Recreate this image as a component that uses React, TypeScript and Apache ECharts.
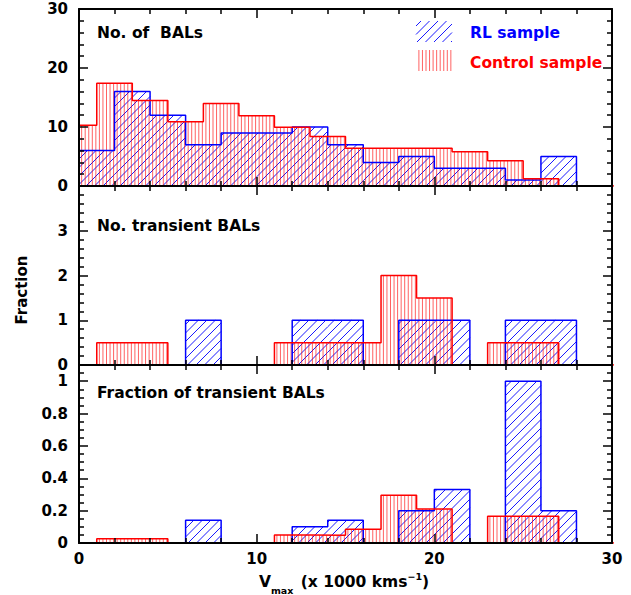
import React, { useEffect, useRef } from 'react';
import * as echarts from 'echarts';

// ---------- data ----------
const BIN_WIDTH = 2;
const rlBinStarts = [0, 2, 4, 6, 8, 10, 12, 14, 16, 18, 20, 22, 24, 26, 28];
const controlBinStarts = [-1, 1, 3, 5, 7, 9, 11, 13, 15, 17, 19, 21, 23, 25, 27, 29];

const rlCounts = [6, 16, 12, 7, 9, 9, 10, 7, 4, 5, 3, 3, 1, 5, 0];
const controlCounts = [10.3, 17.4, 14.5, 10.9, 14.0, 11.9, 9.95, 8.4, 6.4, 6.4, 6.4, 5.8, 4.3, 1.25, 0, 0];

const rlTransient = [0, 0, 0, 1, 0, 0, 1, 1, 0, 1, 1, 0, 1, 1, 0];
const controlTransient = [0, 0.5, 0.5, 0, 0, 0, 0.5, 0.5, 0.5, 2, 1.5, 0, 0.5, 0.5, 0, 0];

const rlFraction = [0, 0, 0, 0.14, 0, 0, 0.1, 0.14, 0, 0.2, 0.33, 0, 1, 0.2, 0];
const controlFraction = [0, 0.027, 0.027, 0, 0, 0, 0.05, 0.048, 0.085, 0.295, 0.21, 0, 0.165, 0.165, 0, 0];

const panelTitles = ['No. of  BALs', 'No. transient BALs', 'Fraction of transient BALs'];
const legendLabels = ['RL sample', 'Control sample'];
const yAxisTitle = 'Fraction';

const X_MIN = 0;
const X_MAX = 30;
const X_INTERVAL = 10;
const yRanges = [
  { min: 0, max: 30, interval: 10, minor: 5 },
  { min: 0, max: 4, interval: 1, minor: 5 },
  { min: 0, max: 1.1, interval: 0.2, minor: 4 },
];

// ---------- style ----------
const FONT = '"DejaVu Sans", Verdana, sans-serif';
const BLUE = '#0000ff';
const RED = '#ff0000';
const DIAG_SPACING = 8.5;
const VERT_SPACING = 3.55;
const BLUE_HATCH = { stroke: 'rgba(0,0,255,0.9)', lineWidth: 1 };
const RED_HATCH = { stroke: 'rgba(255,0,0,0.62)', lineWidth: 1 };

type Seg = { x1: number; y1: number; x2: number; y2: number };

function hatch(x0: number, y0: number, x1: number, y1: number, kind: 'diag' | 'vert'): Seg[] {
  const segs: Seg[] = [];
  if (kind === 'vert') {
    const d = VERT_SPACING;
    for (let x = Math.ceil(x0 / d) * d; x <= x1; x += d) {
      segs.push({ x1: x, y1: y0, x2: x, y2: y1 });
    }
  } else {
    const d = DIAG_SPACING;
    for (let c = Math.ceil((x0 + y0) / d) * d; c <= x1 + y1; c += d) {
      const xs = Math.max(x0, c - y1);
      const xe = Math.min(x1, c - y0);
      if (xe > xs) segs.push({ x1: xs, y1: c - xs, x2: xe, y2: c - xe });
    }
  }
  return segs;
}

function hatchGroup(x0: number, y0: number, x1: number, y1: number, kind: 'diag' | 'vert', z = 0): any {
  const style = kind === 'diag' ? BLUE_HATCH : RED_HATCH;
  return {
    type: 'group',
    silent: true,
    children: hatch(x0, y0, x1, y1, kind).map((s) => ({
      type: 'line',
      silent: true,
      z,
      shape: s,
      style: { ...style },
    })),
  };
}

function binData(starts: number[], values: number[]) {
  return starts.map((s, i) => [s, s + BIN_WIDTH, values[i]]);
}

function outline(starts: number[], values: number[]) {
  const pts: number[][] = [[starts[0], 0]];
  starts.forEach((s, i) => {
    pts.push([s, values[i]]);
    pts.push([s + BIN_WIDTH, values[i]]);
  });
  pts.push([starts[starts.length - 1] + BIN_WIDTH, 0]);
  return pts;
}

export default function App() {
  const ref = useRef<HTMLDivElement>(null);

  useEffect(() => {
    if (!ref.current) return;
    const chart = echarts.init(ref.current, null, { renderer: 'svg' });

    const grids = [
      { left: 79, right: 19, top: 9, height: 177 },
      { left: 79, right: 19, top: 186, height: 179 },
      { left: 79, right: 19, top: 365, height: 178 },
    ];

    const lineCommon = { lineStyle: { color: '#000', width: 2 }, onZero: false };
    const tickCommon = { show: true, inside: true, length: 9, lineStyle: { color: '#000', width: 1.5 } };
    const labelFont = { fontFamily: FONT, fontWeight: 'bold', fontSize: 15, color: '#000' };

    const xAxes: any[] = [];
    const yAxes: any[] = [];
    grids.forEach((_, gi) => {
      ['bottom', 'top'].forEach((pos) => {
        xAxes.push({
          type: 'value',
          gridIndex: gi,
          position: pos,
          min: X_MIN,
          max: X_MAX,
          interval: X_INTERVAL,
          axisLine: { show: true, ...lineCommon },
          axisTick: tickCommon,
          minorTick: { show: true, splitNumber: 5, length: 5, lineStyle: { color: '#000', width: 1.5 } },
          splitLine: { show: false },
          minorSplitLine: { show: false },
          axisLabel: { show: gi === 2 && pos === 'bottom', margin: 8, ...labelFont },
          z: 10,
        });
      });
      const r = yRanges[gi];
      ['left', 'right'].forEach((pos) => {
        yAxes.push({
          type: 'value',
          gridIndex: gi,
          position: pos,
          min: r.min,
          max: r.max,
          interval: r.interval,
          axisLine: { show: true, ...lineCommon },
          axisTick: tickCommon,
          minorTick: { show: true, splitNumber: r.minor, length: 5, lineStyle: { color: '#000', width: 1.5 } },
          splitLine: { show: false },
          minorSplitLine: { show: false },
          axisLabel: {
            show: pos === 'left',
            margin: 11,
            showMaxLabel: gi === 0,
            ...labelFont,
          },
          z: 10,
        });
      });
    });

    const panels = [
      { rl: rlCounts, ctrl: controlCounts },
      { rl: rlTransient, ctrl: controlTransient },
      { rl: rlFraction, ctrl: controlFraction },
    ];

    const makeRender = (kind: 'diag' | 'vert') => (params: any, api: any) => {
      const a = Math.max(api.value(0), X_MIN);
      const b = Math.min(api.value(1), X_MAX);
      const v = api.value(2);
      if (!(v > 0) || b <= a) return null;
      const p0 = api.coord([a, 0]);
      const p1 = api.coord([b, v]);
      return hatchGroup(p0[0], p1[1], p1[0], p0[1], kind);
    };

    const series: any[] = [];
    panels.forEach((p, gi) => {
      const xi = gi * 2;
      const yi = gi * 2;
      series.push({
        type: 'custom',
        xAxisIndex: xi,
        yAxisIndex: yi,
        data: binData(rlBinStarts, p.rl),
        encode: { x: [0, 1], y: 2 },
        renderItem: makeRender('diag'),
        z: 1,
        silent: true,
      });
      series.push({
        type: 'custom',
        xAxisIndex: xi,
        yAxisIndex: yi,
        data: binData(controlBinStarts, p.ctrl),
        encode: { x: [0, 1], y: 2 },
        renderItem: makeRender('vert'),
        z: 2,
        silent: true,
      });
      series.push({
        type: 'line',
        xAxisIndex: xi,
        yAxisIndex: yi,
        data: outline(rlBinStarts, p.rl),
        symbol: 'none',
        lineStyle: { color: BLUE, width: 1.5 },
        clip: true,
        z: 3,
        silent: true,
      });
      series.push({
        type: 'line',
        xAxisIndex: xi,
        yAxisIndex: yi,
        data: outline(controlBinStarts, p.ctrl),
        symbol: 'none',
        lineStyle: { color: RED, width: 1.5 },
        clip: true,
        z: 4,
        silent: true,
      });
    });

    const txt = (text: string, x: number, y: number, fill = '#000', extra: any = {}) => ({
      type: 'text',
      x,
      y,
      z: 100,
      silent: true,
      style: {
        text,
        fill,
        fontFamily: FONT,
        fontWeight: 'bold',
        fontSize: 15.5,
        align: 'left',
        textAlign: 'left',
        verticalAlign: 'middle',
        textVerticalAlign: 'middle',
        ...extra,
      },
    });

    const graphic: any[] = [
      txt(panelTitles[0], 97, 33),
      txt(panelTitles[1], 97, 226),
      txt(panelTitles[2], 97, 393),
      { ...hatchGroup(416, 21, 452, 42, 'diag'), z: 100 },
      { ...hatchGroup(416, 50, 451, 71, 'vert'), z: 100 },
      txt(legendLabels[0], 470, 33, BLUE),
      txt(legendLabels[1], 470, 63, RED),
      {
        type: 'text',
        x: 22,
        y: 290,
        rotation: Math.PI / 2,
        z: 100,
        silent: true,
        style: {
          text: yAxisTitle,
          fill: '#000',
          fontFamily: FONT,
          fontWeight: 'bold',
          fontSize: 15,
          align: 'center',
          textAlign: 'center',
          verticalAlign: 'middle',
          textVerticalAlign: 'middle',
        },
      },
      {
        type: 'text',
        x: 344,
        y: 582,
        z: 100,
        silent: true,
        style: {
          text: '{b|V}{s|max}{b| (x 1000 kms}{p|−1}{b|)}',
          fill: '#000',
          align: 'center',
          textAlign: 'center',
          verticalAlign: 'middle',
          textVerticalAlign: 'middle',
          rich: {
            b: { fontFamily: FONT, fontWeight: 'bold', fontSize: 15.5, lineHeight: 26, verticalAlign: 'middle' },
            s: { fontFamily: FONT, fontWeight: 'bold', fontSize: 9.5, lineHeight: 26, verticalAlign: 'bottom', padding: [0, 2, 0, 0] },
            p: { fontFamily: FONT, fontWeight: 'bold', fontSize: 9.5, lineHeight: 26, verticalAlign: 'top', padding: [2, 0, 0, 0] },
          },
        },
      },
    ];

    chart.setOption({
      animation: false,
      backgroundColor: '#fff',
      grid: grids,
      xAxis: xAxes,
      yAxis: yAxes,
      series,
      graphic,
    });

    return () => chart.dispose();
  }, []);

  return (
    <div
      ref={ref}
      style={{ position: 'absolute', left: 0, top: 0, width: 631, height: 595 }}
    />
  );
}
